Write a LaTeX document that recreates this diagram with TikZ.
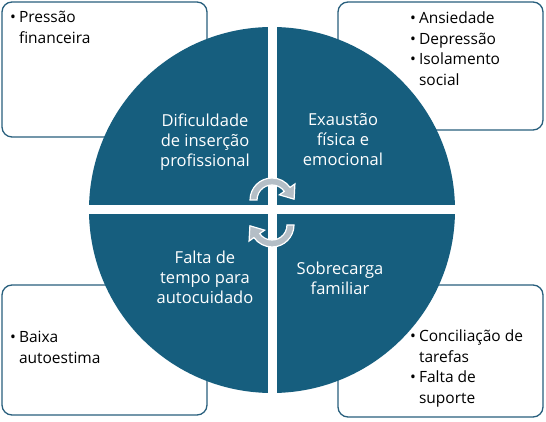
\documentclass[tikz,border=0pt]{standalone}
\usepackage{fontspec}
\setmainfont{Open Sans}
\usepackage{tikz}
\usetikzlibrary{calc}
\definecolor{tealdark}{RGB}{22,94,126}
\definecolor{boxline}{RGB}{40,95,125}
\definecolor{arrowgray}{RGB}{180,190,198}
\tikzset{
  infobox/.style={draw=boxline, line width=1.3pt, rounded corners=10pt, fill=white},
  bullets/.style={align=left, anchor=base west, inner sep=0pt, font=\fontsize{15.5}{20.5}\selectfont},
  quadtext/.style={align=center, text=white, font=\fontsize{16.5}{20}\selectfont},
  cyclearrow/.style={fill=arrowgray, draw=white, line width=1.2pt}
}
\newcommand{\bl}[1]{\begin{tabular}[t]{@{}l@{\hspace{3pt}}l@{}}#1\end{tabular}}

\begin{document}
\begin{tikzpicture}[x=1pt, y=1pt]

    % Canvas
    \useasboundingbox (0,0) rectangle (546,422);

    % Boxes behind the circle
    \draw[infobox] (2,285) rectangle (207,420);
    \draw[infobox] (338,292) rectangle (543,420);
    \draw[infobox] (2,7) rectangle (207,137);
    \draw[infobox] (338,5) rectangle (543,137);

    % Circle and white cross
    \fill[tealdark] (272,212) circle (183);
    \draw[white, line width=9pt] (272,20) -- (272,404);
    \draw[white, line width=9pt] (80,212) -- (464,212);

    % Labels: quadrants
    \node[quadtext] (qtl) at (205,280) {Dificuldade\\de inserção\\profissional};
    \node[quadtext] (qtr) at (343,282) {Exaustão\\física e\\emocional};
    \node[quadtext] (qbl) at (205,145) {Falta de\\tempo para\\autocuidado};
    \node[quadtext] (qbr) at (340,144) {Sobrecarga\\familiar};

    % Labels: bullet lists
    \node[bullets] (ltl) at (10,399) {\bl{\textbullet & Pressão\\ & financeira}};
    \node[bullets] (ltr) at (410,398) {\bl{\textbullet & Ansiedade\\ \textbullet & Depressão\\ \textbullet & Isolamento\\ & social}};
    \node[bullets] (lbl) at (10,79) {\bl{\textbullet & Baixa\\ & autoestima}};
    \node[bullets] (lbr) at (410,80) {\bl{\textbullet & Conciliação de\\ & tarefas\\ \textbullet & Falta de\\ & suporte}};

    % Cycle arrows
    \begin{scope}[shift={(272,222)}]
      \path[cyclearrow] (180:22) arc[start angle=180, end angle=35, radius=22]
        -- (35:28) -- (22.1,0.8) -- (35:9) -- (35:15)
        arc[start angle=35, end angle=180, radius=15] -- cycle;
    \end{scope}
    \begin{scope}[shift={(272,197)}, rotate=180]
      \path[cyclearrow] (180:22) arc[start angle=180, end angle=35, radius=22]
        -- (35:28) -- (22.1,0.8) -- (35:9) -- (35:15)
        arc[start angle=35, end angle=180, radius=15] -- cycle;
    \end{scope}

\end{tikzpicture}
\end{document}
